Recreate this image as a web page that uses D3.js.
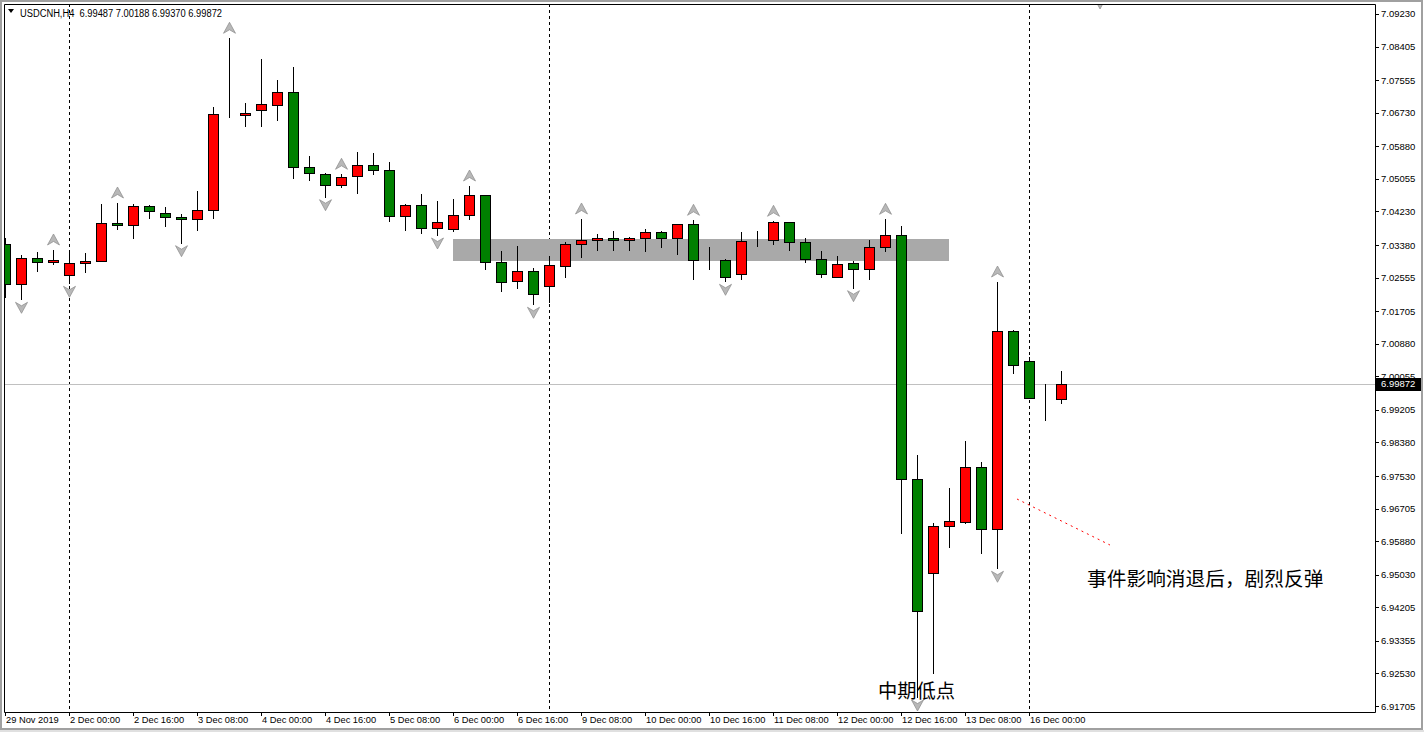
<!DOCTYPE html>
<html><head><meta charset="utf-8">
<script src="https://cdn.jsdelivr.net/npm/d3@7"></script>
<style>html,body{margin:0;padding:0;background:#fff;overflow:hidden}</style>
</head><body><svg id="c" width="1424" height="732"></svg>
<script>
// ---------------- DATA ----------------
const titleText = "USDCNH,H4  6.99487 7.00188 6.99370 6.99872";
const times = [
 "2019.11.29 08:00","2019.11.29 12:00","2019.11.29 16:00","2019.11.29 20:00",
 "2019.12.02 00:00","2019.12.02 04:00","2019.12.02 08:00","2019.12.02 12:00","2019.12.02 16:00","2019.12.02 20:00",
 "2019.12.03 00:00","2019.12.03 04:00","2019.12.03 08:00","2019.12.03 12:00","2019.12.03 16:00","2019.12.03 20:00",
 "2019.12.04 00:00","2019.12.04 04:00","2019.12.04 08:00","2019.12.04 12:00","2019.12.04 16:00","2019.12.04 20:00",
 "2019.12.05 00:00","2019.12.05 04:00","2019.12.05 08:00","2019.12.05 12:00","2019.12.05 16:00","2019.12.05 20:00",
 "2019.12.06 00:00","2019.12.06 04:00","2019.12.06 08:00","2019.12.06 12:00","2019.12.06 16:00","2019.12.06 20:00",
 "2019.12.09 00:00","2019.12.09 04:00","2019.12.09 08:00","2019.12.09 12:00","2019.12.09 16:00","2019.12.09 20:00",
 "2019.12.10 00:00","2019.12.10 04:00","2019.12.10 08:00","2019.12.10 12:00","2019.12.10 16:00","2019.12.10 20:00",
 "2019.12.11 00:00","2019.12.11 04:00","2019.12.11 08:00","2019.12.11 12:00","2019.12.11 16:00","2019.12.11 20:00",
 "2019.12.12 00:00","2019.12.12 04:00","2019.12.12 08:00","2019.12.12 12:00","2019.12.12 16:00","2019.12.12 20:00",
 "2019.12.13 00:00","2019.12.13 04:00","2019.12.13 08:00","2019.12.13 12:00","2019.12.13 16:00","2019.12.13 20:00",
 "2019.12.16 00:00","2019.12.16 04:00","2019.12.16 08:00"
];
const open = [
 7.03398,7.02385,7.03044,7.02942,
 7.02613,7.02917,7.02968,7.03930,7.03879,7.04360,
 7.04183,7.04082,7.04031,7.04259,7.06680,7.06665,
 7.06791,7.06918,7.07247,7.05348,7.05171,7.04892,
 7.05120,7.05399,7.05272,7.04107,7.04386,7.03803,
 7.03778,7.04133,7.04639,7.02942,7.02461,7.02714,
 7.02335,7.02841,7.03398,7.03499,7.03550,7.03499,
 7.03550,7.03702,7.03550,7.03905,7.02993,7.02993,
 7.02638,7.03482,7.03499,7.03955,7.03449,7.03018,
 7.02562,7.02917,7.02765,7.03322,7.03626,6.97447,
 6.95067,6.96257,6.96373,6.97751,6.96181,7.01195,
 7.00435,6.99498,6.99487
];
const high = [
 7.03558,7.03127,7.03203,7.03254,
 7.03203,7.03170,7.04419,7.04444,7.04419,7.04386,
 7.04335,7.04158,7.04748,7.06867,7.08615,7.06976,
 7.08090,7.07559,7.07888,7.05634,7.05196,7.05171,
 7.05735,7.05703,7.05475,7.04411,7.04672,7.04495,
 7.04545,7.04874,7.04639,7.03228,7.03355,7.02790,
 7.03102,7.03456,7.04039,7.03659,7.03735,7.03575,
 7.03793,7.03735,7.03905,7.04006,7.03330,7.03018,
 7.03702,7.03727,7.03981,7.03955,7.03550,7.03228,
 7.03094,7.02968,7.03499,7.04031,7.03854,6.98055,
 6.96333,6.97227,6.98417,6.97885,7.02443,7.01228,
 7.00537,6.99860,7.00188
];
const low = [
 7.02071,7.02005,7.02730,7.02907,
 7.02410,7.02704,7.02968,7.03793,7.03565,7.04072,
 7.03869,7.03439,7.03768,7.04072,7.06614,7.06401,
 7.06401,7.06553,7.05085,7.05034,7.04603,7.04857,
 7.04705,7.05178,7.03996,7.03768,7.03692,7.03634,
 7.03743,7.04046,7.02765,7.02223,7.02299,7.01879,
 7.01930,7.02562,7.03084,7.03261,7.03261,7.03261,
 7.03236,7.03337,7.03145,7.02527,7.02780,7.02461,
 7.02527,7.03347,7.03398,7.03246,7.02942,7.02562,
 7.02562,7.02299,7.02527,7.03216,6.96095,6.91934,
 6.92535,6.95740,6.96348,6.95573,6.95194,7.00147,
 6.99498,6.98949,6.99370
];
const close = [
 7.02385,7.03044,7.02942,7.03001,
 7.02917,7.02968,7.03930,7.03879,7.04360,7.04234,
 7.04082,7.04031,7.04259,7.06690,7.06672,7.06715,
 7.06943,7.07247,7.05348,7.05196,7.04892,7.05095,
 7.05399,7.05272,7.04107,7.04386,7.03803,7.03955,
 7.04133,7.04639,7.02942,7.02436,7.02714,7.02132,
 7.02866,7.03398,7.03499,7.03550,7.03499,7.03550,
 7.03702,7.03550,7.03905,7.02993,7.02993,7.02562,
 7.03474,7.03482,7.03955,7.03449,7.03018,7.02638,
 7.02892,7.02765,7.03322,7.03626,6.97447,6.94105,
 6.96257,6.96384,6.97751,6.96181,7.01195,7.00334,
 6.99498,6.99498,6.99872
];
const upFractals = ["2019.11.29 20:00","2019.12.02 12:00","2019.12.03 16:00","2019.12.04 20:00","2019.12.06 04:00",
  "2019.12.09 08:00","2019.12.10 12:00","2019.12.11 08:00","2019.12.12 12:00","2019.12.13 16:00"];
const downFractals = ["2019.11.29 12:00","2019.12.02 00:00","2019.12.03 04:00","2019.12.04 16:00","2019.12.05 20:00",
  "2019.12.06 20:00","2019.12.10 20:00","2019.12.12 04:00","2019.12.12 20:00","2019.12.13 16:00"];
const priceTicks = [7.09230,7.08405,7.07555,7.06730,7.05880,7.05055,7.04230,7.03380,7.02555,7.01705,7.00880,
  7.00055,6.99205,6.98380,6.97530,6.96705,6.95880,6.95030,6.94205,6.93355,6.92530,6.91705];
const timeTicks = ["2019.11.29 08:00","2019.12.02 00:00","2019.12.02 16:00","2019.12.03 08:00","2019.12.04 00:00",
  "2019.12.04 16:00","2019.12.05 08:00","2019.12.06 00:00","2019.12.06 16:00","2019.12.09 08:00","2019.12.10 00:00",
  "2019.12.10 16:00","2019.12.11 08:00","2019.12.12 00:00","2019.12.12 16:00","2019.12.13 08:00","2019.12.16 00:00"];
const timeTickLabels = ["29 Nov 2019","2 Dec 00:00","2 Dec 16:00","3 Dec 08:00","4 Dec 00:00","4 Dec 16:00",
  "5 Dec 08:00","6 Dec 00:00","6 Dec 16:00","9 Dec 08:00","10 Dec 00:00","10 Dec 16:00","11 Dec 08:00",
  "12 Dec 00:00","12 Dec 16:00","13 Dec 08:00","16 Dec 00:00"];
const weekSeparators = ["2019.12.02 00:00","2019.12.09 00:00","2019.12.16 00:00"];
const currentPrice = 6.99872;
// zone (bar index units / price)
const zoneBars = [28, 59];
const zonePrices = [7.03532, 7.02975];
// red dotted trend line
const trendBars = [63.25, 69.06];
const trendPrices = [6.96948, 6.95783];
const texts = ["中期低点", "事件影响消退后，剧烈反弹"];
const textBars = [54.56, 67.63];
const textPrices = [6.91909, 6.94745];
const extraDownArrowBar = 68.44, extraDownArrowPrice = 7.09509;

// ---------------- LAYOUT ----------------
const L = 4, T = 4, R = 1375, B = 712;
const svg = d3.select("#c");
const x = d3.scaleLinear().domain([0, times.length - 1]).range([5, 5 + 16 * (times.length - 1)]);
const y = d3.scaleLinear().domain([6.915545, 7.09483]).range([B, T]);
const idx = t => times.indexOf(t);
const px = v => Math.round(v) + 0.5;

// outer window border
svg.append("rect").attr("x", 0).attr("y", 0).attr("width", 1424).attr("height", 732).attr("fill", "#fff");
svg.append("rect").attr("x", 1).attr("y", 1).attr("width", 1421).attr("height", 728)
  .attr("fill", "none").attr("stroke", "#a0a0a0").attr("stroke-width", 2);
svg.append("rect").attr("x", 0).attr("y", 730).attr("width", 1424).attr("height", 2).attr("fill", "#e0e0e0");

svg.append("defs").append("clipPath").attr("id", "plot")
  .append("rect").attr("x", L).attr("y", T).attr("width", R - L).attr("height", B - T);

const g = svg.append("g").attr("clip-path", "url(#plot)");

// week separators
g.selectAll("line.sep").data(weekSeparators).join("line")
  .attr("x1", d => px(x(idx(d)))).attr("x2", d => px(x(idx(d))))
  .attr("y1", T).attr("y2", B).attr("stroke", "#000").attr("stroke-dasharray", "3,3");

// zone rectangle
g.append("rect")
  .attr("x", Math.round(x(zoneBars[0]))).attr("width", Math.round(x(zoneBars[1]) - x(zoneBars[0])))
  .attr("y", Math.round(y(zonePrices[0]))).attr("height", Math.round(y(zonePrices[1]) - y(zonePrices[0])))
  .attr("fill", "#a9a9a9");

// current price line
g.append("line").attr("x1", L).attr("x2", R).attr("y1", px(y(currentPrice))).attr("y2", px(y(currentPrice)))
  .attr("stroke", "#c0c0c0");

// red dotted line
g.append("line")
  .attr("x1", x(trendBars[0])).attr("y1", y(trendPrices[0]))
  .attr("x2", x(trendBars[1])).attr("y2", y(trendPrices[1]))
  .attr("stroke", "#ff0000").attr("stroke-dasharray", "2,4");

// candles
const bars = times.map((t, i) => ({i, o: open[i], h: high[i], l: low[i], c: close[i]}));
const cg = g.append("g");
cg.selectAll("line.wick").data(bars).join("line")
  .attr("x1", d => px(x(d.i))).attr("x2", d => px(x(d.i)))
  .attr("y1", d => Math.round(y(d.h))).attr("y2", d => Math.round(y(d.l)) + 1)
  .attr("stroke", "#000");
cg.selectAll("rect.body").data(bars).join("rect")
  .attr("x", d => Math.round(x(d.i)) - 5 + 0.5)
  .attr("width", 10)
  .attr("y", d => Math.round(y(Math.max(d.o, d.c))) + 0.5)
  .attr("height", d => Math.round(y(Math.min(d.o, d.c))) - Math.round(y(Math.max(d.o, d.c))))
  .attr("fill", d => d.c > d.o ? "#ff0000" : "#008000")
  .attr("stroke", "#000");

// fractal arrows
const upPath = "M0,-6 L6,5 L0,1.5 L-6,5 Z";
const downPath = "M0,6 L6,-5 L0,-1.5 L-6,-5 Z";
g.selectAll("path.up").data(upFractals).join("path")
  .attr("d", upPath)
  .attr("transform", d => `translate(${x(idx(d)) + 0.5},${y(high[idx(d)]) - 10})`)
  .attr("fill", "#b8b8b8").attr("stroke", "#8a8a8a").attr("stroke-width", 0.7);
g.selectAll("path.down").data(downFractals).join("path")
  .attr("d", downPath)
  .attr("transform", d => `translate(${x(idx(d)) + 0.5},${y(low[idx(d)]) + 8})`)
  .attr("fill", "#b8b8b8").attr("stroke", "#8a8a8a").attr("stroke-width", 0.7);
g.append("path").attr("d", downPath)
  .attr("transform", `translate(${x(extraDownArrowBar)},${y(extraDownArrowPrice)})`)
  .attr("fill", "#b8b8b8").attr("stroke", "#8a8a8a").attr("stroke-width", 0.7);

// annotation texts
const annSizes = ["19.3px", "19.7px"];
g.selectAll("text.ann").data(texts).join("text")
  .attr("x", (d, i) => x(textBars[i])).attr("y", (d, i) => y(textPrices[i]))
  .attr("font-family", "'Noto Sans CJK SC', sans-serif").attr("font-size", (d, i) => annSizes[i])
  .attr("fill", "#000").text(d => d);

// frame
svg.append("path").attr("d", `M${L + 0.5},${T + 0.5} H${R + 0.5} V${B + 0.5} H${L + 0.5} Z`)
  .attr("fill", "none").attr("stroke", "#000");

// price axis
const pa = svg.append("g");
pa.selectAll("line").data(priceTicks).join("line")
  .attr("x1", R + 1).attr("x2", R + 4).attr("y1", d => px(y(d))).attr("y2", d => px(y(d))).attr("stroke", "#000");
pa.selectAll("text").data(priceTicks).join("text")
  .attr("x", R + 6).attr("y", d => y(d) + 3.5)
  .attr("font-family", "'Liberation Sans', Arial, sans-serif").attr("font-size", "9.5px").attr("fill", "#000")
  .text(d => d.toFixed(5));

// current price box
svg.append("rect").attr("x", R + 1).attr("y", Math.round(y(currentPrice)) - 6).attr("width", 45).attr("height", 13).attr("fill", "#000");
svg.append("text").attr("x", R + 6).attr("y", y(currentPrice) + 3.5)
  .attr("font-family", "'Liberation Sans', Arial, sans-serif").attr("font-size", "9.5px").attr("fill", "#fff")
  .text(currentPrice.toFixed(5));

// time axis
const ta = svg.append("g");
ta.selectAll("line").data(timeTicks).join("line")
  .attr("x1", d => px(Math.max(L, x(idx(d))))).attr("x2", d => px(Math.max(L, x(idx(d)))))
  .attr("y1", B + 1).attr("y2", B + 4).attr("stroke", "#000");
ta.selectAll("text").data(timeTicks).join("text")
  .attr("x", d => Math.max(L, x(idx(d))) + 1).attr("y", B + 10.5)
  .attr("font-family", "'Liberation Sans', Arial, sans-serif").attr("font-size", "9.3px").attr("fill", "#000")
  .text((d, i) => timeTickLabels[i]);

// title
svg.append("path").attr("d", "M8,9 L14,9 L11,13 Z").attr("fill", "#000");
svg.append("text").attr("x", 20).attr("y", 16.5)
  .attr("font-family", "'Liberation Sans', Arial, sans-serif").attr("font-size", "10px").attr("fill", "#000")
  .attr("textLength", 202).attr("lengthAdjust", "spacingAndGlyphs").attr("xml:space", "preserve")
  .text(titleText);
</script></body></html>
